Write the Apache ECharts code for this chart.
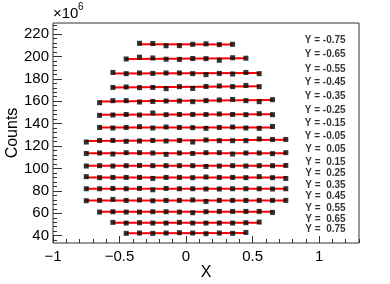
<!DOCTYPE html>
<html>
<head>
<meta charset="utf-8">
<script src="https://cdn.jsdelivr.net/npm/echarts@6/dist/echarts.min.js"></script>
<style>html,body{margin:0;padding:0;background:#fff}#c{width:390px;height:284px}</style>
</head>
<body>
<div id="c"></div>
<script>
// ---- data ----
const xBins = [-0.75,-0.65,-0.55,-0.45,-0.35,-0.25,-0.15,-0.05,0.05,0.15,0.25,0.35,0.45,0.55,0.65,0.75];
const xTickValues = [-1,-0.5,0,0.5,1];
const xTickLabels = ['\u22121','\u22120.5','0','0.5','1'];
const yTickValues = [40,60,80,100,120,140,160,180,200,220];
const rowLabels = ['Y = -0.75','Y = -0.65','Y = -0.55','Y = -0.45','Y = -0.35','Y = -0.25','Y = -0.15','Y = -0.05',
                   'Y =  0.05','Y =  0.15','Y =  0.25','Y =  0.35','Y =  0.45','Y =  0.55','Y =  0.65','Y =  0.75'];
const N = null;
const countsYm075 = [N,N,N,N,211.7,211.5,209.5,209.6,210.8,211.2,210.5,210.8,N,N,N,N];
const countsYm065 = [N,N,N,197.7,199.3,198.6,197.5,197.3,198.1,198.0,196.6,198.8,198.4,N,N,N];
const countsYm055 = [N,N,185.7,184.6,185.2,184.8,185.2,185.2,184.6,183.7,184.8,184.3,185.7,184.6,N,N];
const countsYm045 = [N,N,172.3,172.7,172.1,172.3,171.2,173.0,171.4,173.2,173.6,173.0,174.1,173.0,N,N];
const countsYm035 = [N,158.7,160.5,160.5,159.3,159.8,160.2,160.2,159.6,160.5,161.1,161.6,160.5,159.6,161.4,N];
const countsYm025 = [N,147.4,147.7,148.2,147.7,149.5,148.0,148.2,148.2,148.2,148.6,148.2,148.0,148.9,148.0,N];
const countsYm015 = [N,136.6,136.1,136.6,137.3,136.1,137.0,136.6,136.4,135.8,136.6,137.0,136.1,135.8,137.5,N];
const countsYm005 = [123.6,125.0,125.0,124.2,124.5,125.0,124.5,125.0,123.6,125.4,124.8,124.8,124.8,126.3,125.9,125.9];
const countsYp005 = [113.4,113.8,112.9,114.1,114.1,113.8,112.6,113.8,113.4,114.1,114.1,112.9,113.8,113.8,113.2,114.1];
const countsYp015 = [102.2,102.5,102.2,102.5,102.7,102.5,102.5,102.5,102.5,101.8,102.2,102.5,102.2,102.5,102.5,102.7];
const countsYp025 = [92.7,91.8,92.0,92.0,92.0,91.1,92.0,92.0,91.8,92.4,92.0,92.0,91.8,92.7,91.8,91.1];
const countsYp035 = [81.9,81.9,82.2,81.9,82.2,81.0,82.2,81.9,81.9,81.7,81.7,81.9,81.9,81.9,81.7,81.9];
const countsYp045 = [71.2,71.5,72.4,71.5,71.9,71.2,71.5,71.5,71.9,70.6,71.5,71.5,71.5,71.5,71.5,71.5];
const countsYp055 = [N,61.1,61.4,61.1,61.1,61.4,61.4,61.1,60.5,61.4,61.7,61.7,61.7,61.7,60.8,N];
const countsYp065 = [N,N,51.9,51.3,51.6,51.3,51.3,51.9,51.3,51.3,51.3,51.3,51.6,52.2,N,N];
const countsYp075 = [N,N,N,42.1,42.4,42.1,42.4,42.7,42.4,41.8,42.4,42.1,42.9,N,N,N];
const fitLeft  = [210.9,197.7,184.8,172.3,159.8,148.0,136.5,124.5,113.6,102.4,92.0,81.9,71.5,61.3,51.5,42.3];
const fitRight = [210.7,198.3,185.1,173.3,161.1,148.3,136.6,125.6,113.6,102.4,91.9,81.8,71.4,61.3,51.5,42.4];
const labelX = 1.2;

const rows = [countsYm075,countsYm065,countsYm055,countsYm045,countsYm035,countsYm025,countsYm015,countsYm005,
              countsYp005,countsYp015,countsYp025,countsYp035,countsYp045,countsYp055,countsYp065,countsYp075];

// ---- chart ----
const FONT = '"Liberation Sans", Arial, Helvetica, sans-serif';
const chart = echarts.init(document.getElementById('c'), null, {renderer:'canvas'});
const yMin = 33.5, yMax = 229.8, xMin = -1, xMax = 1.3;
const yMinor = []; for (let v = 36; v <= 228; v += 4) if (v % 20 !== 0) yMinor.push(v);
const xMinor = []; for (let k = -10; k <= 13; k++) if (k % 5 !== 0) xMinor.push(k/10);

const series = [];
rows.forEach((vals, i) => {
  let first = vals.findIndex(v => v !== null);
  let last = vals.length - 1; while (vals[last] === null) last--;
  series.push({
    type:'line', xAxisIndex:0, yAxisIndex:0, z:2, silent:true, symbol:'none',
    lineStyle:{color:'#ff0000', width:2},
    data:[[xBins[first], fitLeft[i]],[xBins[last], fitRight[i]]]
  });
  series.push({
    type:'scatter', xAxisIndex:0, yAxisIndex:0, z:3, silent:true, symbol:'rect', symbolSize:5,
    itemStyle:{color:'#000'},
    data: vals.map((v,j) => v === null ? null : [xBins[j], v]).filter(d => d)
  });
});
series.push({
  type:'scatter', xAxisIndex:0, yAxisIndex:0, z:4, silent:true, symbolSize:0.1,
  itemStyle:{color:'rgba(0,0,0,0)'},
  label:{show:true, position:'left', distance:0, offset:[0,-4], color:'#000', fontFamily:FONT, fontWeight:'bold', fontSize:10,
         formatter: p => rowLabels[p.dataIndex]},
  data: fitRight.map(v => [labelX, v])
});

const axisCol = '#333';
const gridBase = {left:53, right:31, top:23, bottom:41, containLabel:false, outerBoundsMode:'none'};
chart.setOption({
  animation:false,
  grid:[
    Object.assign({show:true, borderColor:axisCol, borderWidth:1, backgroundColor:'#fff'}, gridBase),
    Object.assign({show:false}, gridBase)
  ],
  xAxis:[
    {type:'value', gridIndex:0, min:xMin, max:xMax, position:'bottom',
     axisLine:{show:false, onZero:false}, splitLine:{show:false},
     axisTick:{show:true, inside:true, length:7, customValues:xTickValues, lineStyle:{color:axisCol}},
     axisLabel:{show:true, customValues:xTickValues, margin:6, color:'#000', fontFamily:FONT, fontSize:15,
                formatter: v => xTickLabels[xTickValues.indexOf(v)] ?? ''},
     name:'X', nameLocation:'middle', nameGap:22, nameMoveOverlap:false,
     nameTextStyle:{color:'#000', fontFamily:FONT, fontSize:16}},
    {type:'value', gridIndex:1, min:xMin, max:xMax, position:'bottom',
     axisLine:{show:false, onZero:false}, splitLine:{show:false}, axisLabel:{show:false},
     axisTick:{show:true, inside:true, length:4, customValues:xMinor, lineStyle:{color:axisCol}}}
  ],
  yAxis:[
    {type:'value', gridIndex:0, min:yMin, max:yMax, position:'left',
     axisLine:{show:false, onZero:false}, splitLine:{show:false},
     axisTick:{show:true, inside:true, length:9, customValues:yTickValues, lineStyle:{color:axisCol}},
     axisLabel:{show:true, customValues:yTickValues, margin:4, color:'#000', fontFamily:FONT, fontSize:15},
     name:'Counts', nameLocation:'middle', nameGap:32, nameRotate:90, nameMoveOverlap:false,
     nameTextStyle:{color:'#000', fontFamily:FONT, fontSize:16}},
    {type:'value', gridIndex:1, min:yMin, max:yMax, position:'left',
     axisLine:{show:false, onZero:false}, splitLine:{show:false}, axisLabel:{show:false},
     axisTick:{show:true, inside:true, length:4, customValues:yMinor, lineStyle:{color:axisCol}}}
  ],
  graphic:[
    {type:'text', left:53, top:6, style:{text:'\u00d710', fontSize:15, fontFamily:FONT, fill:'#000'}},
    {type:'text', left:78, top:2, style:{text:'6', fontSize:10, fontFamily:FONT, fill:'#000'}}
  ],
  series: series
});
</script>
</body>
</html>
